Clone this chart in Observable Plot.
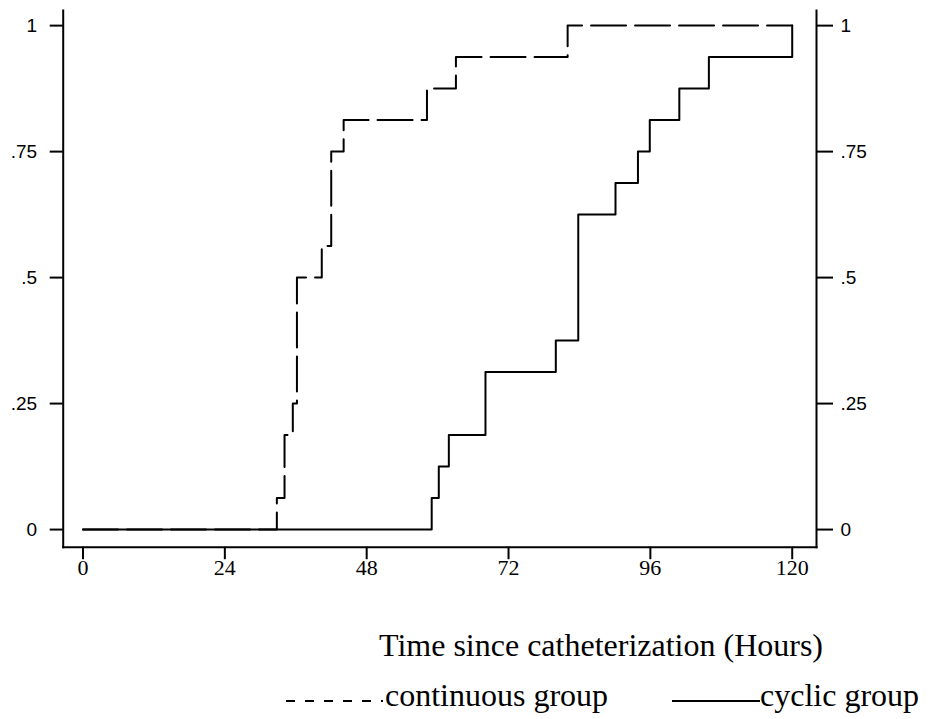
<!DOCTYPE html>
<html><head><meta charset="utf-8">
<script src="https://cdn.jsdelivr.net/npm/d3@7"></script>
<script src="https://cdn.jsdelivr.net/npm/@observablehq/plot@0.6"></script>
<style>
body{margin:0;background:#fff;}
#wrap{position:relative;width:931px;height:719px;background:#fff;}
#chart svg{display:block;}
.cap{position:absolute;font-family:"Liberation Serif","Times New Roman",serif;font-size:32px;color:#000;white-space:nowrap;line-height:1;}
.sw{position:absolute;display:block;}
</style></head><body><div id="wrap"><div id="chart"></div></div>
<script>
// Data (time in hours, cumulative proportion)
const continuousTime  = [0, 32.8, 34.1, 35.5, 36.2, 40.4, 42.0, 44.1, 58.2, 63.1, 82.0, 120];
const continuousValue = [0, 0.0625, 0.1875, 0.25, 0.5, 0.5625, 0.75, 0.8125, 0.875, 0.9375, 1, 1];
const cyclicTime  = [0, 59.0, 60.2, 61.9, 68.1, 80.0, 83.8, 90.1, 93.9, 95.9, 100.9, 105.9, 120];
const cyclicValue = [0, 0.0625, 0.125, 0.1875, 0.3125, 0.375, 0.625, 0.6875, 0.75, 0.8125, 0.875, 0.9375, 1];
const xTicks = [0, 24, 48, 72, 96, 120];
const yTicks = [0, 0.25, 0.5, 0.75, 1];
const xLabel = "Time since catheterization (Hours)";
const seriesLabels = ["continuous group", "cyclic group"];

const xDomain = [-3.35, 124.11];
const yDomain = [-0.035, 1.03];

const cont = continuousTime.map((t, i) => ({t, v: continuousValue[i]}));
const cyc = cyclicTime.map((t, i) => ({t, v: cyclicValue[i]}));
const fmt = d => d === 0 ? "0" : d === 1 ? "1" : String(d).replace(/^0/, "");

const chart = Plot.plot({
  width: 931, height: 600,
  marginLeft: 62.7, marginRight: 115, marginTop: 10, marginBottom: 53.3,
  x: {domain: xDomain, label: null},
  y: {domain: yDomain, label: null},
  style: {background: "#fff", color: "#000", overflow: "visible"},
  marks: [
    Plot.axisX({ticks: xTicks, tickSize: 12.5, tickPadding: 0, strokeWidth: 2, fontSize: 22, fontFamily: "Liberation Serif", label: null, tickFormat: d => String(d)}),
    Plot.axisY({anchor: "left", ticks: yTicks, tickSize: 13, tickPadding: 13, strokeWidth: 2, fontSize: 19, fontFamily: "Liberation Sans", label: null, tickFormat: fmt}),
    Plot.axisY({anchor: "right", ticks: yTicks, tickSize: 16, tickPadding: 8, strokeWidth: 2, fontSize: 19, fontFamily: "Liberation Sans", label: null, tickFormat: fmt}),
    Plot.frame({anchor: "left", strokeWidth: 2}),
    Plot.frame({anchor: "right", strokeWidth: 2}),
    Plot.frame({anchor: "bottom", strokeWidth: 2}),
    Plot.line(cont, {x: "t", y: "v", curve: "step-after", stroke: "#000", strokeWidth: 2, strokeDasharray: "35,9"}),
    Plot.line(cyc, {x: "t", y: "v", curve: "step-after", stroke: "#000", strokeWidth: 2})
  ]
});
document.getElementById("chart").appendChild(chart);

const wrap = document.getElementById("wrap");
function addText(txt, left, top) {
  const d = document.createElement("div");
  d.className = "cap"; d.textContent = txt;
  d.style.left = left + "px"; d.style.top = top + "px";
  wrap.appendChild(d);
}
function addSwatch(left, top, w, dash) {
  const ns = "http://www.w3.org/2000/svg";
  const s = document.createElementNS(ns, "svg");
  s.setAttribute("width", w); s.setAttribute("height", 4);
  s.setAttribute("class", "sw");
  s.style.left = left + "px"; s.style.top = top + "px";
  const l = document.createElementNS(ns, "line");
  l.setAttribute("x1", 0); l.setAttribute("x2", w);
  l.setAttribute("y1", 2); l.setAttribute("y2", 2);
  l.setAttribute("stroke", "#000"); l.setAttribute("stroke-width", 2);
  if (dash) l.setAttribute("stroke-dasharray", dash);
  s.appendChild(l);
  wrap.appendChild(s);
}
addText(xLabel, 379, 629);
addSwatch(286, 699, 97, "9,10");
addText(seriesLabels[0], 385, 679);
addSwatch(672, 699, 88, null);
addText(seriesLabels[1], 760, 679);
</script></body></html>
